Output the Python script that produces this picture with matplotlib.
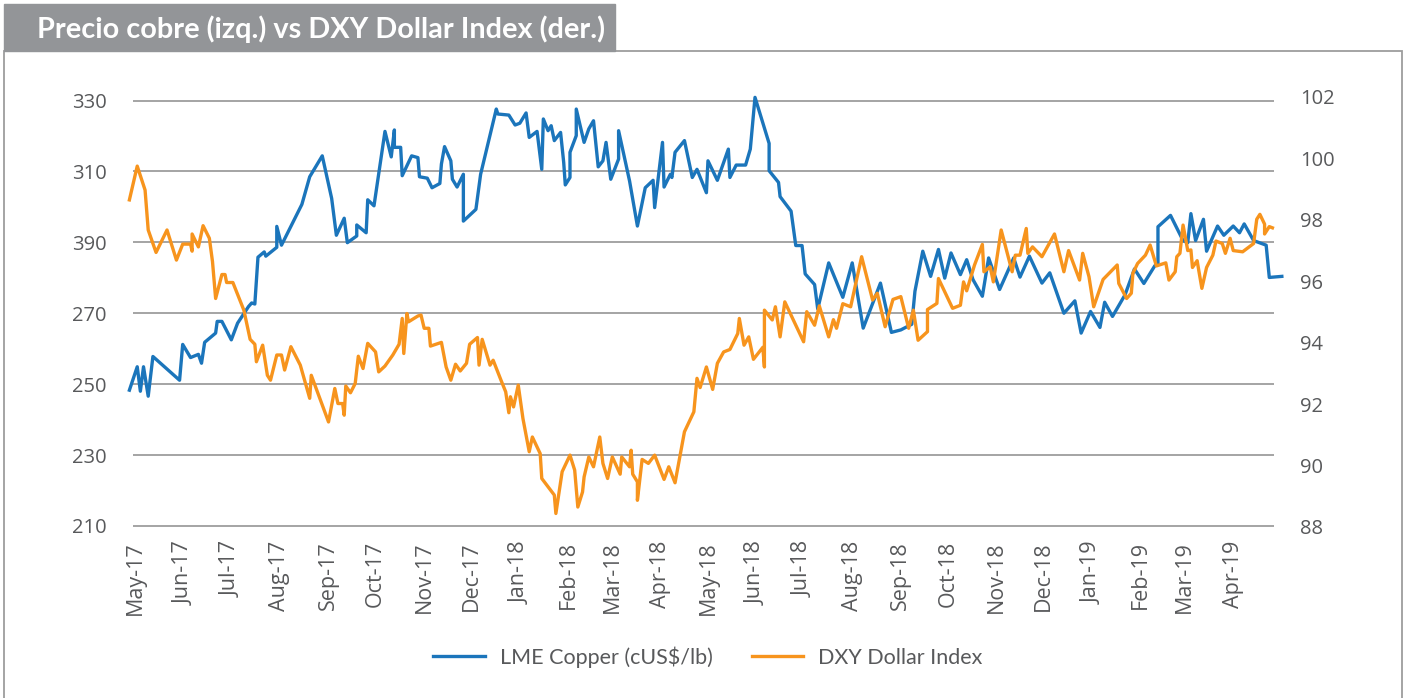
import pandas as pd
import matplotlib
matplotlib.use('Agg')
import matplotlib.pyplot as plt
from matplotlib.patches import Rectangle

plt.rcParams['font.family'] = ['Open Sans', 'DejaVu Sans']

start = pd.Timestamp('2017-05-01')

# LME copper, cUS$/lb (days counted from 1 May 2017)
copper_day = [-4, 1, 3, 5, 8, 11, 28, 30, 35, 40,
              42, 44, 51, 52, 55, 61, 65, 72, 74, 76,
              78, 82, 83, 90, 90, 93, 106, 111, 119, 125,
              128, 133, 135, 141, 141, 147, 148, 152, 159, 163,
              165, 165, 169, 170, 176, 180, 181, 186, 189, 194,
              195, 197, 201, 202, 205, 209, 209, 217, 220, 230,
              231, 238, 242, 245, 249, 251, 256, 259, 260, 263,
              265, 267, 271, 273, 274, 277, 277, 281, 281, 286,
              289, 292, 295, 298, 300, 303, 308, 308, 315, 320,
              325, 330, 331, 336, 337, 341, 342, 344, 350, 355,
              358, 364, 365, 371, 378, 379, 383, 389, 392, 395,
              404, 404, 410, 411, 418, 421, 425, 427, 433, 435,
              442, 451, 457, 464, 475, 482, 488, 495, 497, 502,
              507, 512, 516, 520, 526, 530, 534, 540, 544, 551,
              560, 564, 570, 578, 583, 592, 599, 603, 609, 615,
              618, 623, 631, 637, 643, 650, 652, 652, 660, 668,
              671, 673, 676, 681, 683, 690, 694, 700, 704, 707,
              713, 721, 723, 731]
copper_val = [248.3, 254.9, 248.0, 254.9, 246.6, 257.8, 251.1, 261.2, 257.5, 258.4,
              255.9, 261.8, 264.4, 267.7, 267.7, 262.5, 267.2, 271.9, 272.9, 272.6,
              285.8, 287.3, 286.1, 288.6, 294.5, 289.2, 300.7, 308.5, 314.4, 302.4,
              292.0, 296.8, 289.9, 291.8, 294.9, 292.7, 302.0, 300.3, 321.3, 314.1,
              321.7, 316.8, 316.8, 308.8, 314.4, 313.9, 308.5, 308.1, 305.4, 306.6,
              312.1, 317.0, 313.0, 307.8, 305.6, 309.2, 296.0, 299.3, 309.2, 327.6,
              326.2, 325.9, 323.1, 323.6, 326.5, 319.6, 321.3, 310.6, 324.8, 321.5,
              322.9, 318.7, 321.0, 312.5, 306.2, 308.3, 315.4, 320.1, 327.6, 318.2,
              322.0, 324.3, 311.3, 313.0, 318.2, 307.8, 313.5, 321.5, 307.3, 294.6,
              305.4, 307.5, 299.8, 318.2, 305.6, 309.2, 308.3, 315.4, 318.7, 308.3,
              310.6, 304.0, 313.0, 307.5, 316.3, 308.3, 311.8, 311.8, 316.3, 330.9,
              317.9, 310.2, 306.9, 302.9, 298.8, 289.1, 289.1, 281.1, 278.1, 271.2,
              284.2, 274.5, 284.2, 265.8, 278.5, 264.6, 265.3, 266.9, 276.2, 287.5,
              280.4, 288.0, 279.9, 287.0, 280.9, 285.1, 279.5, 274.8, 285.6, 276.7,
              285.6, 280.2, 286.1, 278.5, 281.4, 270.0, 273.5, 264.4, 270.5, 266.0,
              273.1, 269.1, 275.2, 282.5, 278.4, 283.4, 283.9, 294.4, 297.6, 290.5,
              289.9, 298.1, 290.5, 296.5, 287.5, 294.6, 292.0, 294.6, 292.7, 295.2,
              290.5, 289.2, 280.1, 280.4]

# DXY dollar index
dxy_day = [-4, 1, 6, 8, 13, 20, 26, 30, 35, 36,
           36, 40, 43, 47, 49, 51, 55, 57, 58, 62,
           69, 73, 76, 77, 81, 84, 86, 90, 93, 95,
           99, 105, 111, 112, 123, 127, 129, 132, 133, 134,
           137, 140, 142, 145, 148, 153, 155, 159, 164, 168,
           170, 171, 173, 174, 180, 182, 184, 187, 188, 195,
           198, 201, 204, 207, 211, 213, 218, 219, 221, 226,
           228, 233, 236, 238, 239, 241, 244, 247, 251, 253,
           258, 259, 267, 268, 272, 277, 280, 282, 285, 286,
           289, 292, 296, 298, 301, 304, 309, 310, 315, 316,
           317, 320, 320, 323, 327, 331, 337, 340, 344, 347,
           350, 356, 358, 360, 364, 368, 371, 375, 379, 384,
           385, 388, 391, 394, 400, 401, 401, 406, 408, 411,
           414, 426, 428, 433, 436, 442, 445, 447, 451, 456,
           463, 470, 473, 478, 483, 488, 493, 496, 499, 505,
           505, 511, 512, 521, 526, 528, 530, 535, 540, 541,
           545, 547, 552, 559, 561, 564, 568, 569, 572, 578,
           586, 592, 595, 602, 604, 608, 611, 617, 626, 627,
           632, 635, 636, 639, 644, 647, 651, 657, 659, 663,
           664, 666, 668, 671, 673, 674, 677, 678, 680, 683,
           687, 689, 693, 695, 698, 700, 706, 713, 715, 717,
           720, 720, 723, 725]
dxy_val = [98.65, 99.75, 98.97, 97.67, 96.94, 97.67, 96.69, 97.21, 97.21, 96.98,
           97.54, 97.12, 97.81, 97.40, 96.64, 95.44, 96.22, 96.22, 95.96, 95.96,
           95.06, 94.11, 93.95, 93.38, 93.92, 92.94, 92.78, 93.60, 93.60, 93.11,
           93.87, 93.27, 92.19, 92.94, 91.42, 92.51, 92.02, 92.02, 91.64, 92.59,
           92.37, 92.67, 93.56, 93.16, 93.98, 93.70, 93.05, 93.24, 93.60, 93.95,
           94.79, 93.65, 94.95, 94.68, 94.87, 94.90, 94.47, 94.47, 93.89, 94.01,
           93.21, 92.78, 93.30, 93.08, 93.33, 93.95, 94.17, 93.27, 94.11, 93.27,
           93.43, 92.78, 92.40, 91.72, 92.24, 91.91, 92.62, 91.53, 90.45, 90.93,
           90.39, 89.58, 89.04, 88.44, 89.80, 90.34, 89.85, 88.65, 89.14, 89.63,
           90.28, 89.96, 90.93, 90.07, 89.58, 90.28, 89.72, 90.28, 89.96, 90.50,
           89.72, 89.47, 88.87, 90.20, 90.07, 90.34, 89.55, 89.96, 89.44, 90.28,
           91.10, 91.75, 92.84, 92.54, 93.21, 92.48, 93.33, 93.70, 93.78, 94.30,
           94.79, 93.92, 94.19, 93.46, 93.85, 93.21, 95.06, 94.74, 95.17, 94.19,
           95.33, 94.03, 95.01, 94.57, 95.20, 94.19, 94.75, 94.47, 95.27, 95.17,
           96.80, 95.39, 95.61, 94.52, 95.41, 95.50, 94.47, 95.06, 94.08, 94.36,
           95.08, 95.28, 96.09, 95.12, 95.22, 95.98, 95.69, 96.53, 97.20, 96.31,
           96.47, 95.98, 97.67, 96.31, 96.85, 96.85, 97.72, 96.91, 97.12, 96.80,
           97.54, 96.31, 97.00, 96.04, 96.91, 96.15, 95.17, 96.06, 96.53, 95.93,
           95.44, 95.61, 96.26, 96.58, 96.85, 97.18, 96.50, 96.60, 96.04, 96.31,
           96.80, 96.91, 97.83, 97.00, 97.02, 96.45, 96.67, 96.36, 95.77, 96.45,
           96.85, 97.31, 97.23, 96.91, 97.40, 97.00, 96.96, 97.23, 98.02, 98.18,
           97.86, 97.54, 97.78, 97.74]

month_labels = ['May-17', 'Jun-17', 'Jul-17', 'Aug-17', 'Sep-17', 'Oct-17',
                'Nov-17', 'Dec-17', 'Jan-18', 'Feb-18', 'Mar-18', 'Apr-18',
                'May-18', 'Jun-18', 'Jul-18', 'Aug-18', 'Sep-18', 'Oct-18',
                'Nov-18', 'Dec-18', 'Jan-19', 'Feb-19', 'Mar-19', 'Apr-19']
copper_ticks = [210, 230, 250, 270, 290, 310, 330]
copper_tick_labels = ['210', '230', '250', '270', '390', '310', '330']
dxy_ticks = [88, 90, 92, 94, 96, 98, 100, 102]

title = 'Precio cobre (izq.) vs DXY Dollar Index (der.)'
copper_name = 'LME Copper (cUS$/lb)'
dxy_name = 'DXY Dollar Index'

blue = '#1b75bb'
orange = '#f7941d'
txt = '#58595b'

copper_dates = start + pd.to_timedelta(copper_day, unit='D')
dxy_dates = start + pd.to_timedelta(dxy_day, unit='D')
month_ticks = pd.date_range('2017-05-01', periods=len(month_labels), freq='MS')

W, H = 1407, 698
fig = plt.figure(figsize=(W / 100, H / 100), dpi=100)

# frame and title tab
fig.add_artist(Rectangle((4 / W, -0.01), 1398 / W, 1 - 51 / H + 0.01,
                         transform=fig.transFigure, fill=False,
                         edgecolor='#9d9d9d', lw=1.3, zorder=0))
fig.add_artist(Rectangle((4 / W, 1 - 51 / H), 611 / W, 47 / H,
                         transform=fig.transFigure, color='#939598', zorder=1))
fig.text(37 / W, 1 - 29 / H, title, color='white', fontsize=20.8,
         fontweight='bold', family=['Lato', 'DejaVu Sans'], va='center', zorder=2)

ax = fig.add_axes([133 / W, 1 - 527 / H, 1141 / W, 430 / H])
ax2 = ax.twinx()

l1, = ax.plot(copper_dates, copper_val, color=blue, lw=2.4, clip_on=False)
l2, = ax2.plot(dxy_dates, dxy_val, color=orange, lw=2.4, clip_on=False)

ax.set_xlim(start - pd.Timedelta(days=1.7), start + pd.Timedelta(days=726))
ax.set_ylim(209.7, 331.0)
ax2.set_ylim(88, 102)

ax.set_yticks(copper_ticks)
ax.set_yticklabels(copper_tick_labels)
ax2.set_yticks(dxy_ticks)
ax2.set_yticklabels([str(v) for v in dxy_ticks])
ax.set_xticks(month_ticks)
ax.set_xticklabels(month_labels, rotation=90)

ax.grid(axis='y', color='#8c8c8c', lw=1.1)
ax.set_axisbelow(True)
for a in (ax, ax2):
    for s in a.spines.values():
        s.set_visible(False)
    a.tick_params(length=0, labelsize=14.5, colors=txt)
ax.tick_params(axis='x', labelsize=15.5, pad=10)
ax.tick_params(axis='y', pad=19)
ax2.tick_params(axis='y', pad=19)

fig.legend([l1, l2], [copper_name, dxy_name], loc='center',
           bbox_to_anchor=(708 / W, 1 - 657 / H), ncol=2, frameon=False,
           prop={'family': ['Lato', 'DejaVu Sans'], 'size': 15.5},
           labelcolor=txt, handlelength=2.4, handletextpad=0.7,
           columnspacing=1.8)

fig.savefig('out.png', dpi=100)
